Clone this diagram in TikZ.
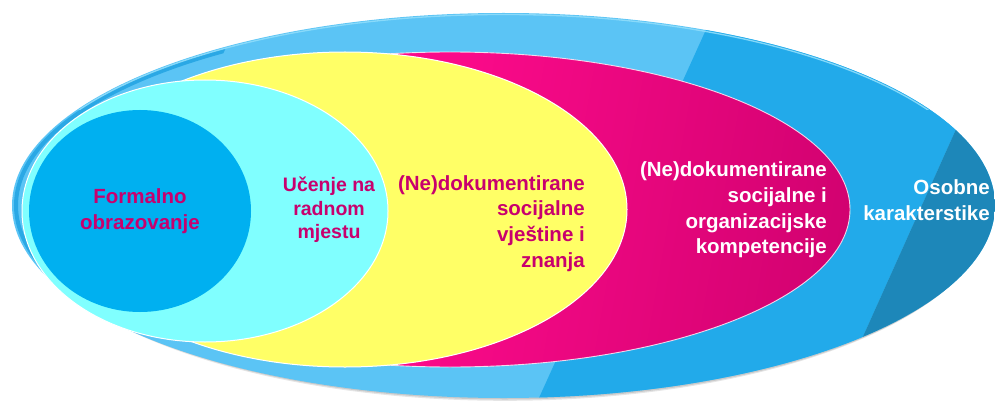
\documentclass[tikz,border=0pt]{standalone}
\usepackage{fontspec}
\setmainfont{Liberation Sans}
\usetikzlibrary{shapes.geometric}
\definecolor{outerlight}{HTML}{5BC4F5}
\definecolor{outermid}{HTML}{22AAEA}
\definecolor{outerdark}{HTML}{1D87B9}
\definecolor{rimdark}{HTML}{2AA8E5}
\definecolor{rimlight}{HTML}{8FDDFB}
\definecolor{cyanfill}{HTML}{80FFFF}
\definecolor{yellowfill}{HTML}{FFFF66}
\definecolor{magL}{HTML}{FA0A89}
\definecolor{magR}{HTML}{C8006A}
\definecolor{formblue}{HTML}{00B0F0}
\definecolor{txtmag}{HTML}{C8006E}
\begin{document}
\begin{tikzpicture}[x=1pt,y=-1pt,
  lblbig/.style={font=\bfseries\fontsize{20.5}{25.7}\selectfont, inner sep=0pt},
  lblsmall/.style={font=\bfseries\fontsize{19.5}{23.5}\selectfont, inner sep=0pt},
  ring/.style={draw=white, line width=1pt}]
\useasboundingbox (0,0) rectangle (995,401);
% soft shadow of the outer ellipse (downwards only)
\fill[black, opacity=0.10] (505,208.3) ellipse [x radius=486pt, y radius=192.5pt];
\fill[black, opacity=0.12] (505,207) ellipse [x radius=488pt, y radius=192.5pt];
% outer ellipse with its three tones
\begin{scope}
  \clip (503.5,205.5) ellipse [x radius=491.5pt, y radius=192.5pt];
  \fill[outerlight] (0,0) rectangle (995,401);
  \fill[outermid] (724,-10) -- (1018.5,-10) -- (830,410) -- (533.5,410) -- cycle;
  \fill[outerdark] (1018.5,-10) -- (1100,-10) -- (1100,410) -- (830,410) -- cycle;
  % bevel rim on the left
  \begin{scope}
    \clip (0,-10) -- (252,-10) -- (62,410) -- (0,410) -- cycle;
    \draw[rimdark, line width=4pt] (503.5,205.5) ellipse [x radius=487.5pt, y radius=188.5pt];
  \end{scope}
  % highlight along the top
  \begin{scope}
    \clip (0,0) rectangle (995,110);
    \draw[rimlight, line width=1.3pt, opacity=0.9] (503.5,205.5) ellipse [x radius=490pt, y radius=191pt];
  \end{scope}
\end{scope}
% magenta ellipse
\begin{scope}
  \clip (450,209.5) ellipse [x radius=400pt, y radius=157.5pt];
  \fill[magL] (40,40) rectangle (860,380);
  \shade[left color=magL, right color=magR, shading angle=80] (430,40) rectangle (960,380);
\end{scope}
\draw[white, line width=0.9pt, opacity=0.8] (450,209.5) ellipse [x radius=400pt, y radius=157.5pt];
% yellow ellipse
\fill[yellowfill] (345,209.5) ellipse [x radius=282pt, y radius=157.5pt];
\draw[ring] (345,209.5) ellipse [x radius=282pt, y radius=157.5pt];
% cyan ellipse
\fill[cyanfill] (205,211) ellipse [x radius=183pt, y radius=131pt];
\draw[ring] (205,211) ellipse [x radius=183pt, y radius=131pt];
% blue ellipse
\fill[formblue] (140,211) ellipse [x radius=111pt, y radius=101pt];
% labels
\node[lblbig, text=txtmag, align=center] (nf) at (140,211) {Formalno\\obrazovanje};
\node[lblsmall, text=txtmag, align=center] (nu) at (329,210) {Učenje na\\radnom\\mjestu};
\node[lblbig, text=txtmag, align=right, anchor=east] (nv) at (585,223.5) {(Ne)dokumentirane\\socijalne\\vještine i\\znanja};
\node[lblbig, text=white, align=right, anchor=east] (nk) at (827,210) {(Ne)dokumentirane\\socijalne i\\organizacijske\\kompetencije};
\node[lblbig, text=white, align=right, anchor=east] (no) at (990,200) {Osobne\\karakterstike};
\end{tikzpicture}
\end{document}
